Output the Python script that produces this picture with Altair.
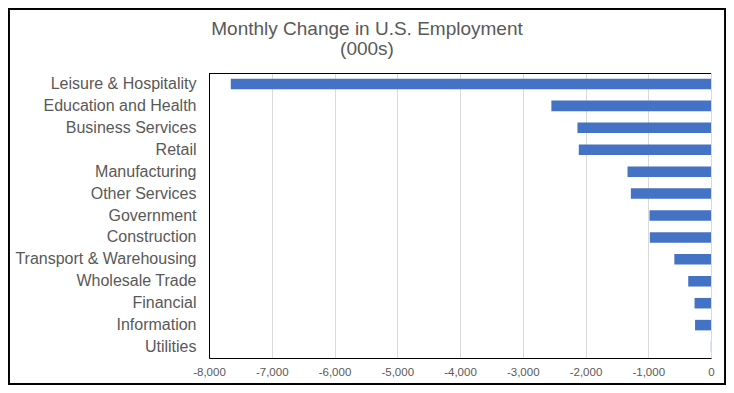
import altair as alt
import pandas as pd

categories = [
    "Leisure & Hospitality", "Education and Health", "Business Services", "Retail",
    "Manufacturing", "Other Services", "Government", "Construction",
    "Transport & Warehousing", "Wholesale Trade", "Financial", "Information", "Utilities",
]
values = [-7653, -2544, -2128, -2107, -1330, -1277, -980, -975, -584, -363, -262, -254, -3]
x_ticks = [-8000, -7000, -6000, -5000, -4000, -3000, -2000, -1000, 0]

df = pd.DataFrame({"category": categories, "value": values})

W, H = 502, 285
PAD_L, PAD_T, PAD_R, PAD_B = 201, 65, 15, 27
FONT = "Liberation Sans"
GRAY = "#595959"

bars = alt.Chart(df).mark_bar(color="#4472C4").encode(
    y=alt.Y("category:N", sort=categories,
            scale=alt.Scale(paddingInner=0.52, paddingOuter=0.26),
            axis=alt.Axis(title=None, ticks=False, labelPadding=13, labelFontSize=16,
                          labelColor=GRAY, labelFont=FONT, domainColor="black",
                          domainWidth=1, grid=False, labelLimit=400)),
    x=alt.X("value:Q", scale=alt.Scale(domain=[-8000, 0], nice=False),
            axis=alt.Axis(title=None, values=x_ticks, ticks=False,
                          labelExpr="replace(format(datum.value, ',.0f'), '\u2212', '-')",
                          labelFlush=False,
                          labelFontSize=11.5, labelColor=GRAY, labelFont=FONT,
                          labelPadding=8, domainColor="black", domainWidth=1,
                          grid=True, gridColor="#d9d9d9", gridWidth=1)),
)

top_rule = alt.Chart(df).mark_rule(color="black", strokeWidth=1).encode(
    x=alt.value(0), x2=alt.value(W), y=alt.value(0.5)
)

border = alt.Chart(df).mark_rect(fill=None, stroke="black", strokeWidth=1.2).encode(
    x=alt.value(-PAD_L + 0.6), x2=alt.value(W + PAD_R - 0.6),
    y=alt.value(-PAD_T + 0.6), y2=alt.value(H + PAD_B - 0.6)
)

chart = alt.layer(bars, top_rule, border).properties(
    width=W, height=H,
    autosize=alt.AutoSizeParams(type="none"),
    padding={"left": PAD_L, "top": PAD_T, "right": PAD_R, "bottom": PAD_B},
    title=alt.TitleParams(
        text=["Monthly Change in U.S. Employment", "(000s)"],
        fontSize=19, font=FONT, color=GRAY, fontWeight="normal",
        anchor="middle", frame="group", dx=-93, offset=-51, lineHeight=20,
    ),
).configure_view(stroke=None).configure(background="white")

chart.save("out.html", embed_options={"renderer": "svg", "actions": False})
